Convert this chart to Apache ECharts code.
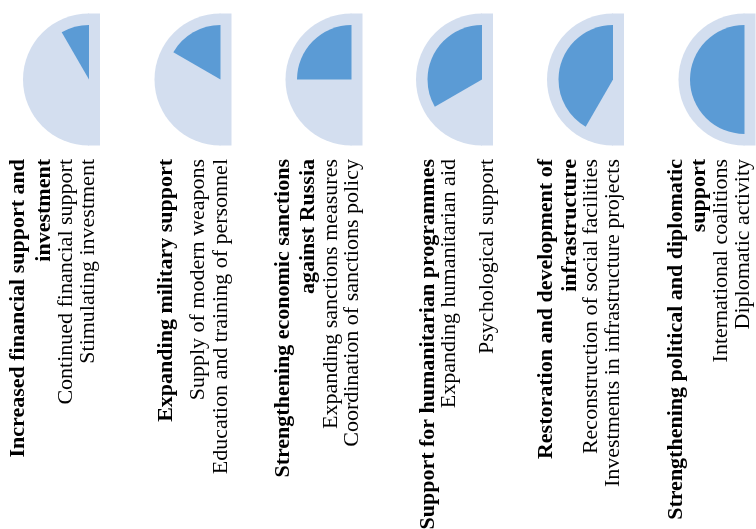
<!DOCTYPE html>
<html>
<head>
<meta charset="utf-8">
<script src="https://cdn.jsdelivr.net/npm/echarts@6/dist/echarts.min.js"></script>
<style>
html,body{margin:0;padding:0;background:#fff;}
#chart{width:756px;height:529px;}
</style>
</head>
<body>
<div id="chart"></div>
<script>
// ---- data ----
const titles = [
  ["Increased financial support and", "investment"],
  ["Expanding military support"],
  ["Strengthening economic sanctions", "against Russia"],
  ["Support for humanitarian programmes"],
  ["Restoration and development of", "infrastructure"],
  ["Strengthening political and diplomatic", "support"]
];
const subItems = [
  ["Continued financial support", "Stimulating investment"],
  ["Supply of modern weapons", "Education and training of personnel"],
  ["Expanding sanctions measures", "Coordination of sanctions policy"],
  ["Expanding humanitarian aid", "Psychological support"],
  ["Reconstruction of social facilities", "Investments in infrastructure projects"],
  ["International coalitions", "Diplomatic activity"]
];
// share of the half-disc filled (percent)
const values = [16.7, 33.3, 50, 66.7, 83.3, 100];

// ---- layout ----
const centersX = [89, 220.5, 351.5, 482, 613, 744.5];
const centerY = 79.5;
const outerR = 66;
const innerR = 54.5;
const stripW = 11;
const lineX = [
  [18.5, 44, 66.5, 88.5],
  [166, 198.5, 221],
  [283.5, 308.5, 331, 352],
  [428.5, 449, 487.5],
  [546, 570, 591, 613.5],
  [676.5, 699.5, 721, 743.5]
];
const textTop = 159;
const light = '#D3DEEF';
const dark = '#5B9BD5';
const fontFamily = '"Liberation Serif", "Times New Roman", serif';
const fontSize = 22;

const series = [];
const graphic = [];
values.forEach((v, i) => {
  const base = {
    type: 'pie',
    center: [centersX[i], centerY],
    startAngle: 90,
    clockwise: false,
    silent: true,
    animation: false,
    avoidLabelOverlap: false,
    label: {show: false},
    labelLine: {show: false},
    emphasis: {disabled: true}
  };
  series.push(Object.assign({}, base, {
    radius: [0, outerR],
    z: 1,
    itemStyle: {borderWidth: 0},
    data: [
      {value: 100, itemStyle: {color: light}},
      {value: 100, itemStyle: {color: 'rgba(0,0,0,0)'}}
    ]
  }));
  series.push(Object.assign({}, base, {
    radius: [0, innerR],
    z: 3,
    itemStyle: {borderWidth: 0},
    data: [
      {value: v, itemStyle: {color: dark}},
      {value: 200 - v, itemStyle: {color: 'rgba(0,0,0,0)'}}
    ]
  }));
  graphic.push({
    type: 'rect',
    silent: true,
    z: 0,
    shape: {x: centersX[i] - 1, y: centerY - outerR, width: stripW + 1, height: outerR * 2},
    style: {fill: light}
  });
  const lines = titles[i].map(t => ({t, bold: true})).concat(subItems[i].map(t => ({t, bold: false})));
  lines.forEach((ln, j) => {
    graphic.push({
      type: 'text',
      silent: true,
      x: lineX[i][j],
      y: textTop,
      rotation: Math.PI / 2,
      style: {
        text: ln.t,
        fill: '#000',
        font: (ln.bold ? 'bold ' : '') + fontSize + 'px ' + fontFamily,
        textAlign: 'right',
        textVerticalAlign: 'middle',
        verticalAlign: 'middle'
      }
    });
  });
});

const chart = echarts.init(document.getElementById('chart'), null, {renderer: 'canvas'});
chart.setOption({
  animation: false,
  backgroundColor: '#fff',
  graphic: graphic,
  series: series
});
</script>
</body>
</html>
